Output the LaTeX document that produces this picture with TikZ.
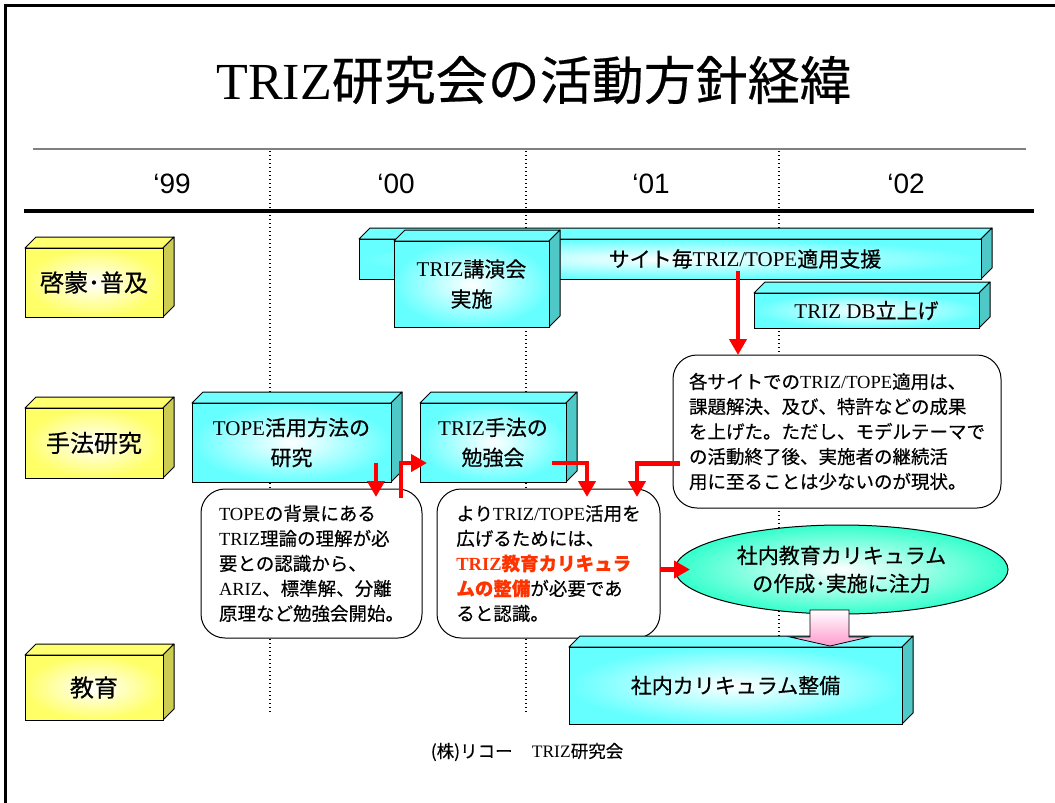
\documentclass[tikz,border=0pt]{standalone}
\usepackage{fontspec}
\setmainfont{Noto Sans CJK JP}[FakeBold=0.4]
\newfontfamily\tr{Liberation Serif}
\newfontfamily\ar{Liberation Sans}
\usetikzlibrary{shapes.geometric,arrows.meta,calc}
\definecolor{cyanF}{HTML}{66FFFF}
\definecolor{cyanT}{HTML}{70FFFF}
\definecolor{cyanS}{HTML}{4FC8C8}
\definecolor{yelF}{HTML}{FFFF66}
\definecolor{yelT}{HTML}{FFFF70}
\definecolor{yelS}{HTML}{CCCC52}
\definecolor{ellF}{HTML}{33FFCC}
\definecolor{pinkF}{HTML}{FF99CC}
\definecolor{redT}{HTML}{FF3300}
\newcommand\Tr[1]{{\tr #1}}
\newcommand\fs[2]{\fontsize{#1}{#2}\selectfont}
\tikzset{
  every node/.style={inner sep=0pt, outer sep=0pt},
  face/.style={draw=black, line width=1pt, shading=radial, inner color=white},
  cyanface/.style={face, outer color=cyanF},
  yelface/.style={face, outer color=yelF},
  slabedge/.style={draw=black, line width=1pt, line join=round},
  redarr/.style={draw=red, line width=4.5pt, -{Triangle[length=16pt,width=17pt]}},
  callout/.style={draw=black, line width=1pt, fill=white, rounded corners=24pt, align=left, font=\fs{18.5}{25}},
  year/.style={font=\ar\fs{28}{30}},
  dotline/.style={line width=1.3pt, dash pattern=on 1.3pt off 2.7pt},
}
% #1 name, #2 kind, #3 x1, #4 y1, #5 x2, #6 y2, #7 font, #8 text
\newcommand\slab[8]{%
  \fill[#2T, slabedge] (#3,#4) -- ++(11,-11) -- ({#5+11},{#4-11}) -- (#5,#4) -- cycle;
  \fill[#2S, slabedge] (#5,#4) -- ({#5+11},{#4-11}) -- ({#5+11},{#6-11}) -- (#5,#6) -- cycle;
  \node[#2face, minimum width={(#5-#3)*1pt}, minimum height={(#6-#4)*1pt}, align=center, font=#7] (#1) at ({(#3+#5)/2},{(#4+#6)/2}) {#8};
}
\begin{document}
\begin{tikzpicture}[x=1pt, y=-1pt]
\useasboundingbox (0,0) rectangle (1055,803);
% frame
\draw[line width=3pt] (5.5,803) -- (5.5,5.5) -- (1055,5.5);
% title
\node (title) at (534,80) {\fs{52}{60}\Tr{TRIZ}研究会の活動方針経緯};
% header lines
\draw[gray, line width=1.5pt] (33,149) -- (1026,149);
\draw[line width=4pt] (24,211) -- (1034,211);
\node[year] (y99) at (172,184) {‘99};
\node[year] (y00) at (396,184) {‘00};
\node[year] (y01) at (651,184) {‘01};
\node[year] (y02) at (906,184) {‘02};
\foreach \x in {270,526,779} \draw[dotline] (\x,151) -- (\x,712);
% category boxes
\slab{keimou}{yel}{25}{248}{163}{317}{\fs{24}{30}}{啓蒙･普及}
\slab{shuhou}{yel}{25}{408}{163}{478}{\fs{24}{30}}{手法研究}
\slab{kyouiku}{yel}{25}{655}{163}{720}{\fs{24}{30}}{教育}
% activity boxes
\slab{site}{cyan}{359}{239}{981}{279}{\fs{21}{28}}{}
\node[font=\fs{21}{28}] (sitelbl) at (745,259) {サイト毎\Tr{TRIZ/TOPE}適用支援};
\slab{koen}{cyan}{394}{241}{549}{327}{\fs{21}{30}}{\Tr{TRIZ}講演会\\実施}
\slab{db}{cyan}{754}{293}{979}{328}{\fs{21}{28}}{\Tr{TRIZ DB}立上げ}
\slab{tope}{cyan}{192}{403}{391}{482}{\fs{21}{30}}{\Tr{TOPE}活用方法の\\研究}
\slab{study}{cyan}{420}{403}{566}{482}{\fs{21}{30}}{\Tr{TRIZ}手法の\\勉強会}
% callouts
\node[callout, minimum width=221pt, minimum height=149pt] (callL) at (311.5,563.5)
  {\Tr{TOPE}の背景にある\\\Tr{TRIZ}理論の理解が必\\要との認識から、\\\Tr{ARIZ}、標準解、分離\\原理など勉強会開始。};
\node[callout, minimum width=223pt, minimum height=149pt] (callM) at (548.5,563.5)
  {より\Tr{TRIZ/TOPE}活用を\\広げるためには、\\{\color{redT}\bfseries\Tr{TRIZ}教育カリキュラ}\\{\color{redT}\bfseries ムの整備}が必要であ\\ると認識。};
\node[callout, minimum width=328pt, minimum height=153pt] (callR) at (837,431.5)
  {各サイトでの\Tr{TRIZ/TOPE}適用は、\\課題解決、及び、特許などの成果\\を上げた。ただし、モデルテーマで\\の活動終了後、実施者の継続活\\用に至ることは少ないのが現状。};
% ellipse
\node[ellipse, draw=black, line width=1pt, shading=radial, inner color=white, outer color=ellF,
      minimum width=333pt, minimum height=89pt, align=center, font=\fs{21}{28}] (ell) at (841.5,569.5)
  {社内教育カリキュラム\\の作成･実施に注力};
% curriculum box
\slab{curr}{cyan}{569}{647}{902}{724}{\fs{21}{28}}{社内カリキュラム整備}
% pink block arrow
\path[draw=black, line width=0.8pt, top color=white, bottom color=pinkF]
  (810,610) -- (849,610) -- (849,637) -- (869,637) -- (830,646) -- (790,637) -- (810,637) -- cycle;
% red arrows
\draw[redarr] ($(site.south west)+(379,-8)$) -- ($(callR.north west)+(65,0)$);
\draw[redarr] ($(tope.south east)+(-15,-19)$) -- ($(callL.north west)+(175,8)$);
\draw[redarr] ($(callL.north east)+(-21,9)$) |- ($(study.south west)+(7,-19)$);
\draw[redarr] ($(study.south east)+(-14,-19)$) -| ($(callM.north west)+(150,8)$);
\draw[redarr] ($(callR.west)+(7,32)$) -| ($(callM.north west)+(200,8)$);
\draw[redarr] ($(callM.east)+(0,6)$) -- ($(ell.west)+(15,0)$);
% footer
\node[font=\fs{17.5}{20}] (footer) at (527,752) {(株)リコー\hspace{1.1em}\Tr{TRIZ}研究会};
\end{tikzpicture}
\end{document}
